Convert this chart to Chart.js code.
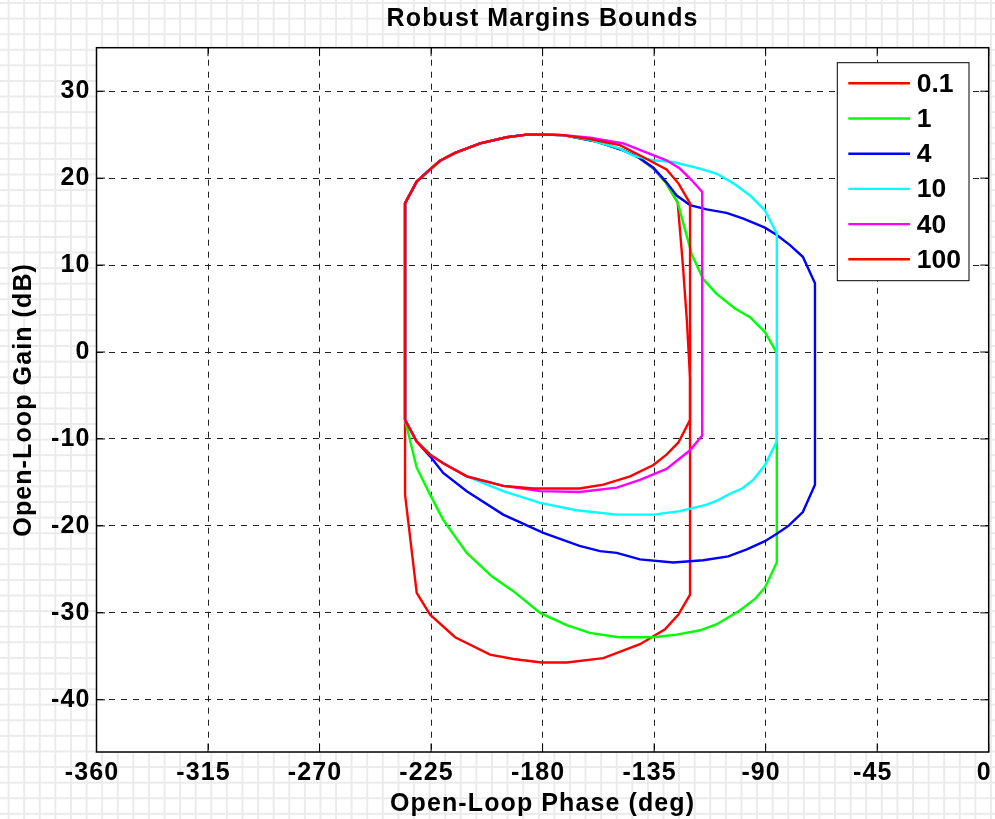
<!DOCTYPE html>
<html>
<head>
<meta charset="utf-8">
<title>Robust Margins Bounds</title>
<script src="https://cdn.jsdelivr.net/npm/chart.js@4/dist/chart.umd.min.js"></script>
<style>
  html, body { margin: 0; padding: 0; }
  body {
    width: 995px; height: 819px; overflow: hidden;
    background-color: #fff;
    background-image:
      linear-gradient(90deg, #ebebeb 1.5px, transparent 1.5px),
      linear-gradient(180deg, #ebebeb 1.5px, transparent 1.5px);
    background-size: 15.6px 15.6px;
    background-position: 7.6px 2px;
  }
  #wrap { position: relative; width: 995px; height: 819px; }
  canvas { display: block; }
</style>
</head>
<body>
<div id="wrap"><canvas id="c" width="995" height="819"></canvas></div>
<script>
// Series labels and line colours (legend order)
const seriesNames = ['0.1', '1', '4', '10', '40', '100'];
const seriesColors = ['#ff0000', '#00ff00', '#0000ff', '#00ffff', '#ff00ff', '#ff0000'];

// Closed bound contours: open-loop phase (deg) and gain (dB)
const phase01 = [-235.5,-235.5,-230.8,-225.4,-221.4,-215.3,-205.2,-194.5,-186.4,-180.3,-171.6,
  -158.2,-147.4,-141.4,-135.3,-130.3,-125.5,-123.4,-121.8,-120.5,
  -120.5,-125.2,-130.6,-140.7,-155.5,-170.3,-180.4,-191.8,-201.2,-215.3,-225.4,-230.8,-235.5];
const gain01 = [-16.4,17.1,19.6,21.0,22.0,22.9,24.0,24.7,25.0,25.0,24.95,
  24.2,23.2,22.4,21.1,19.5,17.2,10.0,3.7,-3.0,
  -27.9,-30.2,-31.9,-33.6,-35.2,-35.7,-35.7,-35.3,-34.8,-32.8,-30.2,-27.7,-16.4];

const phase1 = [-235.5,-235.5,-230.8,-225.4,-221.4,-215.3,-205.2,-194.5,-186.4,-180.3,-171.6,
  -158.2,-147.4,-141.4,-135.3,-130.3,-125.5,-119.8,-115.2,-110.0,-102.4,-96.3,-90.3,-85.5,
  -85.5,-90.3,-94.3,-100.3,-109.7,-116.4,-125.9,-135.3,-149.4,-160.9,-170.3,-181.0,-191.8,-200.5,-210.6,-220.1,-225.4,-230.8,-235.5];
const gain1 = [-7.8,17.1,19.6,21.0,22.0,22.9,24.0,24.7,25.0,25.0,24.95,
  24.2,23.2,22.4,21.1,19.5,17.2,11.2,8.4,6.75,5.0,4.0,2.3,-0.1,
  -24.2,-27.1,-28.4,-29.7,-31.3,-32.0,-32.5,-32.8,-32.8,-32.3,-31.4,-30.0,-27.5,-25.8,-23.1,-19.3,-16.4,-13.3,-7.8];

const phase4 = [-235.5,-235.5,-230.8,-225.4,-221.4,-215.3,-205.2,-194.5,-186.4,-180.3,-171.6,
  -158.2,-147.4,-141.4,-135.3,-130.3,-125.9,-120.5,-113.8,-105.8,-99.0,-90.3,-85.5,-80.2,-75.0,-70.1,
  -70.1,-75.0,-80.8,-85.5,-90.3,-97.6,-105.1,-115.2,-127.3,-140.7,-150.1,-156.8,-165.1,-179.7,-195.9,-210.6,-220.1,-225.4,-230.8,-235.5];
const gain4 = [-7.8,17.1,19.6,21.0,22.0,22.9,24.0,24.7,25.0,25.0,24.95,
  24.2,23.2,22.4,21.2,19.6,18.0,16.9,16.4,16.0,15.35,14.3,13.45,12.3,10.95,7.9,
  -15.25,-18.4,-20.0,-20.9,-21.75,-22.7,-23.5,-23.95,-24.2,-23.85,-23.1,-22.9,-22.3,-20.8,-18.7,-16.0,-13.9,-12.0,-10.3,-7.8];

const phase10 = [-235.5,-235.5,-230.8,-225.4,-221.4,-215.3,-205.2,-194.5,-186.4,-180.3,-171.6,
  -160.9,-148.8,-143.4,-135.3,-127.3,-116.5,-109.7,-103.0,-96.3,-90.3,-85.5,
  -85.5,-90.3,-95.0,-99.5,-104.4,-109.7,-113.8,-124.6,-135.3,-150.1,-166.3,-181.0,-195.9,-210.6,-220.1,-225.4,-230.8,-235.5];
const gain10 = [-7.8,17.1,19.6,21.0,22.0,22.9,24.0,24.7,25.0,25.0,24.95,
  24.4,23.4,22.6,22.05,21.85,21.1,20.5,19.4,18.0,16.3,13.6,
  -10.3,-13.0,-14.7,-15.7,-16.3,-17.1,-17.55,-18.3,-18.7,-18.7,-18.2,-17.35,-16.0,-14.3,-12.8,-11.8,-10.3,-7.8];

const phase40 = [-235.5,-235.5,-230.8,-225.4,-221.4,-215.3,-205.2,-194.5,-186.4,-180.3,-171.6,
  -160.9,-147.4,-136.7,-130.0,-124.6,-119.8,-115.6,
  -115.6,-120.5,-130.0,-140.7,-150.1,-165.1,-181.0,-195.9,-210.6,-220.1,-225.4,-230.8,-235.5];
const gain40 = [-7.8,17.1,19.6,21.0,22.0,22.9,24.0,24.7,25.0,25.0,24.95,
  24.65,24.0,22.8,22.05,21.1,19.75,18.4,
  -9.6,-11.3,-13.45,-14.7,-15.6,-16.1,-16.0,-15.4,-14.3,-12.8,-11.8,-10.3,-7.8];

const phase100 = [-235.5,-235.5,-230.8,-225.4,-221.4,-215.3,-205.2,-194.5,-186.4,-180.3,-171.6,
  -160.9,-148.8,-139.3,-130.0,-125.2,-120.5,
  -120.5,-125.2,-130.0,-135.3,-144.7,-155.5,-165.1,-183.7,-195.9,-210.6,-220.1,-225.4,-230.8,-235.5];
const gain100 = [-7.8,17.1,19.6,21.0,22.0,22.9,24.0,24.7,25.0,25.0,24.95,
  24.5,23.8,22.4,21.0,19.4,17.1,
  -7.8,-10.4,-11.8,-13.0,-14.3,-15.25,-15.7,-15.7,-15.4,-14.3,-12.8,-11.8,-10.3,-7.8];

// Axis ticks
const xTickValues = [-360, -315, -270, -225, -180, -135, -90, -45, 0];
const yTickValues = [-40, -30, -20, -10, 0, 10, 20, 30];

const phases = [phase01, phase1, phase4, phase10, phase40, phase100];
const gains = [gain01, gain1, gain4, gain10, gain40, gain100];

const FONT = "'Liberation Sans', Arial, Helvetica, sans-serif";
const SPACING = '1.1px';

// White plot face, axes box with inward ticks, and an in-axes legend
const framePlugin = {
  id: 'frame',
  beforeDraw(chart) {
    const { ctx, chartArea: a } = chart;
    ctx.letterSpacing = SPACING;
    ctx.save();
    ctx.fillStyle = '#ffffff';
    ctx.fillRect(a.left, a.top, a.right - a.left, a.bottom - a.top);
    ctx.restore();
  },
  afterDatasetsDraw(chart) {
    const { ctx, chartArea: a, scales } = chart;
    const tickLen = 8.5;
    ctx.save();
    ctx.strokeStyle = '#000';
    ctx.lineWidth = 1;
    ctx.beginPath();
    scales.x.ticks.forEach(t => {
      const px = scales.x.getPixelForValue(t.value);
      ctx.moveTo(px, a.bottom); ctx.lineTo(px, a.bottom - tickLen);
      ctx.moveTo(px, a.top); ctx.lineTo(px, a.top + tickLen);
    });
    scales.y.ticks.forEach(t => {
      const py = scales.y.getPixelForValue(t.value);
      ctx.moveTo(a.left, py); ctx.lineTo(a.left + tickLen, py);
      ctx.moveTo(a.right, py); ctx.lineTo(a.right - tickLen, py);
    });
    ctx.stroke();
    ctx.lineWidth = 1.5;
    ctx.strokeRect(a.left, a.top, a.right - a.left, a.bottom - a.top);

    // legend box
    const boxL = a.right - 151.4, boxR = a.right - 19.7;
    const boxT = a.top + 15, boxB = a.top + 233;
    ctx.fillStyle = '#fff';
    ctx.fillRect(boxL, boxT, boxR - boxL, boxB - boxT);
    ctx.lineWidth = 1;
    ctx.strokeStyle = '#000';
    ctx.strokeRect(boxL, boxT, boxR - boxL, boxB - boxT);
    ctx.letterSpacing = '0px';
    ctx.font = 'bold 26.5px ' + FONT;
    ctx.textBaseline = 'middle';
    ctx.textAlign = 'left';
    chart.data.datasets.forEach((ds, i) => {
      const y = boxT + 20.6 + i * 35.2;
      ctx.strokeStyle = ds.borderColor;
      ctx.lineWidth = 2.4;
      ctx.beginPath();
      ctx.moveTo(boxL + 11, y);
      ctx.lineTo(boxL + 72.7, y);
      ctx.stroke();
      ctx.fillStyle = '#000';
      ctx.fillText(ds.label, boxL + 79.4, y + 1.2);
    });
    ctx.restore();
    ctx.letterSpacing = SPACING;
  }
};

const textFont = { family: FONT, size: 25, weight: 'bold', lineHeight: 1.2 };

new Chart(document.getElementById('c'), {
  type: 'scatter',
  data: {
    datasets: seriesNames.map((name, i) => ({
      label: name,
      data: phases[i].map((p, k) => ({ x: p, y: gains[i][k] })),
      showLine: true,
      borderColor: seriesColors[i],
      backgroundColor: seriesColors[i],
      borderWidth: 2.4,
      pointRadius: 0,
      pointHoverRadius: 0,
      tension: 0,
      fill: false,
      order: seriesNames.length - i
    }))
  },
  options: {
    responsive: false,
    animation: false,
    devicePixelRatio: 1,
    events: [],
    layout: { padding: { left: 0, right: 6.3, top: 0, bottom: 0 } },
    plugins: {
      legend: { display: false },
      tooltip: { enabled: false },
      title: {
        display: true,
        text: 'Robust Margins Bounds',
        color: '#000',
        fullSize: false,
        font: textFont,
        padding: { top: 3.7, bottom: 14 }
      }
    },
    scales: {
      x: {
        type: 'linear',
        position: 'bottom',
        min: -360,
        max: 0,
        afterBuildTicks: s => { s.ticks = xTickValues.map(v => ({ value: v })); },
        afterFit: s => { s.height = 67; s.paddingLeft = 0; s.paddingRight = 0; },
        grid: { color: '#222', lineWidth: 1, drawTicks: false },
        border: { display: false, dash: [6, 6] },
        ticks: {
          color: '#000', font: textFont, padding: 6, labelOffset: -4.5,
          maxRotation: 0, autoSkip: false, callback: v => String(v)
        },
        title: {
          display: true, text: 'Open-Loop Phase (deg)', color: '#000',
          font: textFont, padding: { top: 0, bottom: 0 }
        }
      },
      y: {
        type: 'linear',
        position: 'left',
        min: -46,
        max: 35,
        afterBuildTicks: s => { s.ticks = yTickValues.map(v => ({ value: v })); },
        afterFit: s => { s.width = 96.5; s.paddingTop = 0; s.paddingBottom = 0; },
        grid: { color: '#222', lineWidth: 1, drawTicks: false },
        border: { display: false, dash: [6, 6] },
        ticks: {
          color: '#000', font: textFont, padding: 6.1,
          autoSkip: false, callback: v => String(v)
        },
        title: {
          display: true, text: 'Open-Loop Gain (dB)', color: '#000',
          font: textFont, padding: { top: 9.3, bottom: 0 }
        }
      }
    }
  },
  plugins: [framePlugin]
});
</script>
</body>
</html>
